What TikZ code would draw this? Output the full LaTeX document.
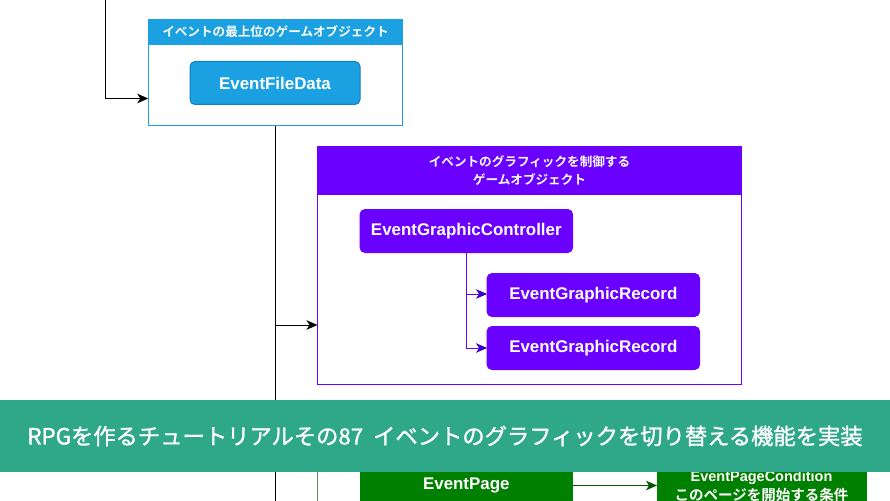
\documentclass[tikz,border=0pt]{standalone}
\usepackage{fontspec}
\setmainfont{Liberation Sans}
\newfontfamily\jp{Noto Sans CJK JP}[BoldFont={Noto Sans CJK JP Bold}]
\newfontfamily\jpb{Noto Sans CJK JP}[FakeBold=1.2]
\usetikzlibrary{arrows.meta}
\definecolor{bluec}{HTML}{1BA1E2}
\definecolor{blued}{HTML}{1080C0}
\definecolor{purpc}{HTML}{6A00FF}
\definecolor{purpd}{HTML}{3700CC}
\definecolor{greenc}{HTML}{008000}
\definecolor{greend}{HTML}{005700}
\definecolor{greenl}{HTML}{5E8A5E}
\definecolor{bannerc}{HTML}{2FA88A}
\tikzset{
  boxbase/.style={draw,rectangle,inner sep=0pt,outer sep=0pt,line width=1pt,align=center,text=white,font=\bfseries},
  frame/.style={draw=#1,fill=white,rectangle,inner sep=0pt,outer sep=0pt,line width=1pt},
  head/.style={boxbase,fill=#1,draw=#1,font=\jp\bfseries\fontsize{12.6}{18}\selectfont},
  card/.style={boxbase,fill=#1,draw=#1,rounded corners=5pt,font=\bfseries\fontsize{16.9}{20}\selectfont},
  flat/.style={boxbase,fill=#1,draw=#1},
  link/.style={line width=1pt,-{Stealth[length=11pt,width=9.5pt,inset=3pt]}},
  plink/.style={line width=1pt,-{Stealth[length=11pt,width=9.5pt,inset=3pt,color=purpd,fill=purpd]}},
  plain/.style={line width=1pt}
}
\begin{document}
\begin{tikzpicture}[x=1pt,y=-1pt]
\useasboundingbox (0,0) rectangle (890,500);
\clip (0,0) rectangle (890,500);
\fill[white] (0,0) rectangle (890,500);
\begin{scope}[shift={(-0.5,0.5)}]
% green container (mostly hidden by the banner)
\node[frame=greenl,minimum width=424pt,minimum height=100pt] (greenout) at (530,480) {};
% blue group
\node[frame=bluec,minimum width=254.5pt,minimum height=106pt] (blueout) at (276,72) {};
\node[head=bluec,minimum width=254.5pt,minimum height=25pt] (bluehead) at (276,31.5) {イベントの最上位のゲームオブジェクト};
\node[card=bluec,draw=blued,minimum width=170pt,minimum height=43pt] (filedata) at (275.5,82.5) {EventFileData};
% purple group
\node[frame=purpc,minimum width=424pt,minimum height=238pt] (purpout) at (530,265) {};
\node[head=purpc,minimum width=424pt,minimum height=48pt] (purphead) at (530,170) {イベントのグラフィックを制御する\\ゲームオブジェクト};
\node[card=purpc,minimum width=212.5pt,minimum height=43pt] (ctrl) at (466.8,230.5) {EventGraphicController};
\node[card=purpc,minimum width=212.5pt,minimum height=43pt] (rec1) at (593.8,294.5) {EventGraphicRecord};
\node[card=purpc,minimum width=212.5pt,minimum height=43pt] (rec2) at (593.8,347.5) {EventGraphicRecord};
% green cards
\node[flat=greenc,minimum width=212.5pt,minimum height=50pt,font=\bfseries\fontsize{16.9}{20}\selectfont] (page) at (466.8,485) {EventPage};
\node[flat=greenc,minimum width=209pt,minimum height=50pt,font=\jp\bfseries\fontsize{14.5}{18.5}\selectfont] (cond) at (762,486) {{\fontspec{Liberation Sans}\bfseries EventPageCondition}\\このページを開始する条件};
% connectors
\coordinate (topin) at (106,-1);
\coordinate (topturn) at (106,98);
\coordinate (trunkend) at (275.5,500);
\coordinate (trunkp) at (275.5,324.5);
\coordinate (branch) at (466.8,293.5);
\draw[plain,black] (blueout.south -| trunkend) -- (trunkend);
\draw[link,black] (topin) -- (topturn) -- (blueout.west |- topturn);
\draw[link,black] (trunkp) -- (purpout.west |- trunkp);
\draw[plain,purpc] (ctrl.south) -- (branch);
\draw[plink,purpc] (branch) -- (rec1.west |- branch);
\draw[plink,purpc] (branch) |- (rec2.west);
\draw[link,greend] (page.east) -- (cond.west |- page.east);
\end{scope}
% banner
\fill[bannerc] (0,400) rectangle (890,472);
\node[inner sep=0pt,text=white,font=\jpb\fontsize{22.3}{26}\selectfont] (banner) at (445,436) {RPGを作るチュートリアルその87\hspace{5pt} イベントのグラフィックを切り替える機能を実装};
\end{tikzpicture}
\end{document}
